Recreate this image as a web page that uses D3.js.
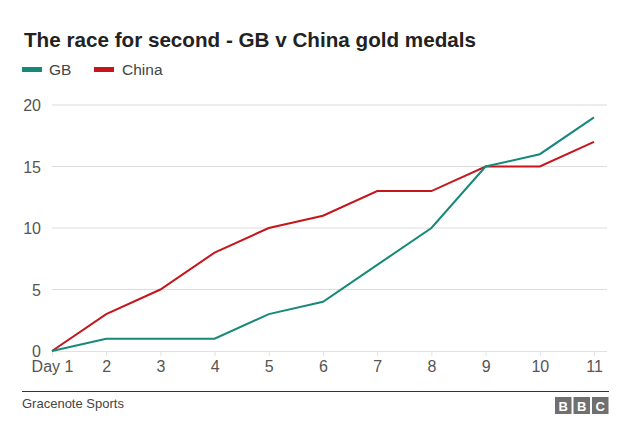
<!DOCTYPE html>
<html><head><meta charset="utf-8">
<script src="https://cdn.jsdelivr.net/npm/d3@7"></script>
<style>body{margin:0;background:#fff}svg{display:block;font-family:"Liberation Sans",Arial,sans-serif}</style>
</head><body><svg id="c" width="640" height="429"></svg>
<script>
const days = ["Day 1","2","3","4","5","6","7","8","9","10","11"];
const gb = [0,1,1,1,3,4,7,10,15,16,19];
const china = [0,3,5,8,10,11,13,13,15,15,17];
const yTicks = [0,5,10,15,20];
const seriesNames = ["GB","China"];
const colors = {GB:"#16897a", China:"#c4161c"};

const svg = d3.select("#c");
const x = d3.scalePoint().domain(days).range([52,594]);
const y = d3.scaleLinear().domain([0,20]).range([351,105]);

svg.append("text").attr("x",24).attr("y",47).attr("font-size",20.5).attr("font-weight","bold").attr("fill","#222")
  .attr("textLength",452).attr("lengthAdjust","spacingAndGlyphs")
  .text("The race for second - GB v China gold medals");

// legend
const leg = [{n:"GB",sx:22,tx:49},{n:"China",sx:94,tx:122}];
leg.forEach(l=>{
  svg.append("rect").attr("x",l.sx).attr("y",67).attr("width",20).attr("height",5).attr("fill",colors[l.n]);
  svg.append("text").attr("x",l.tx).attr("y",75).attr("font-size",15.5).attr("fill","#444").text(l.n);
});

// gridlines
svg.append("g").selectAll("line").data(yTicks.filter(d=>d>0)).join("line")
  .attr("x1",52).attr("x2",607).attr("y1",d=>y(d)).attr("y2",d=>y(d))
  .attr("stroke","#dcdcdc").attr("stroke-width",1.2);

// y labels
svg.append("g").selectAll("text").data(yTicks).join("text")
  .attr("x",41).attr("y",d=>y(d)+6).attr("text-anchor","end").attr("font-size",16).attr("fill","#555").text(d=>d);

// x axis
const xa = svg.append("g").attr("transform","translate(0,351)")
  .call(d3.axisBottom(x).tickSize(5).tickPadding(5));
xa.select(".domain").attr("d","M52,0.5H607").attr("stroke","#e2e2e2");
xa.selectAll(".tick line").attr("stroke","#e2e2e2");
xa.selectAll(".tick text").attr("font-size",16).attr("fill","#555").attr("font-family","Liberation Sans, Arial, sans-serif");

// lines
const line = d3.line().x((d,i)=>x(days[i])).y(d=>y(d));
[["China",china],["GB",gb]].forEach(([n,v])=>{
  svg.append("path").datum(v).attr("d",line).attr("fill","none").attr("stroke",colors[n]).attr("stroke-width",2);
});

// footer
svg.append("line").attr("x1",22).attr("x2",609).attr("y1",391.5).attr("y2",391.5).attr("stroke","#333").attr("stroke-width",1);
svg.append("text").attr("x",22).attr("y",408).attr("font-size",13).attr("fill","#444").text("Gracenote Sports");
["B","B","C"].forEach((c,i)=>{
  const bx = 555 + i*18.5;
  svg.append("rect").attr("x",bx).attr("y",397).attr("width",16.5).attr("height",17).attr("fill","#707070");
  svg.append("text").attr("x",bx+8.25).attr("y",410.5).attr("text-anchor","middle").attr("font-size",13).attr("font-weight","bold").attr("fill","#fff").text(c);
});
</script></body></html>
